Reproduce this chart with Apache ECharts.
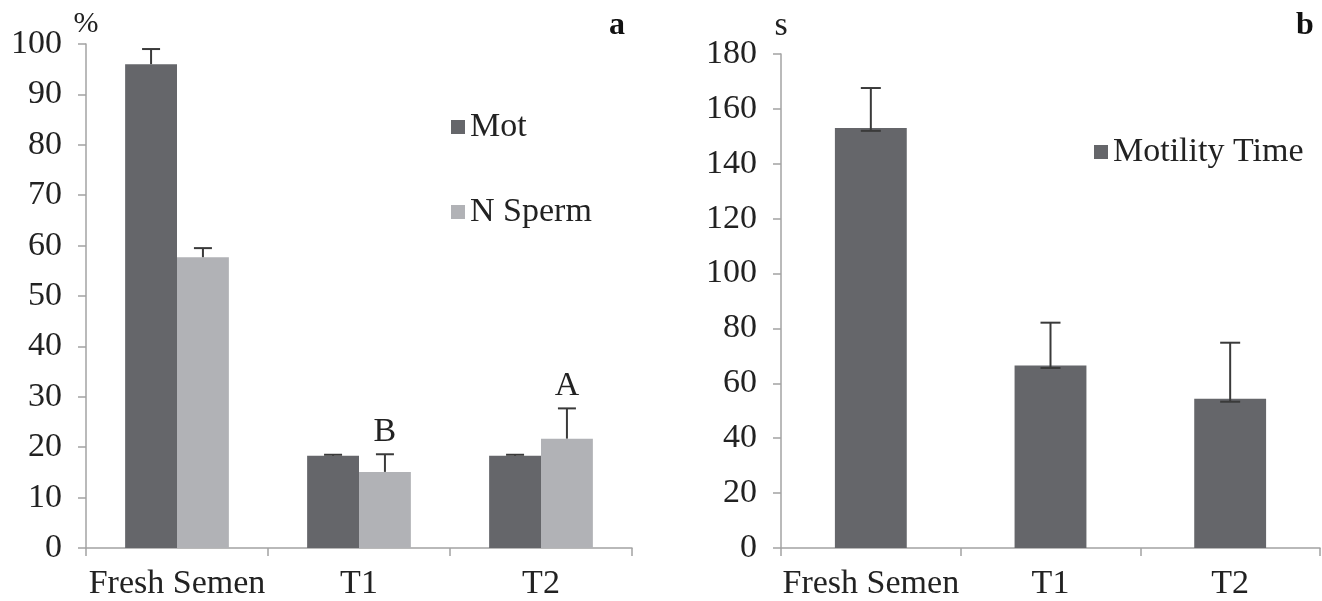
<!DOCTYPE html>
<html>
<head>
<meta charset="utf-8">
<script src="https://cdn.jsdelivr.net/npm/echarts@6/dist/echarts.min.js"></script>
<style>
  html, body { margin: 0; padding: 0; background: #fff; }
  #chart { width: 1322px; height: 601px; }
</style>
</head>
<body>
<div id="chart"></div>
<script>
// Panel a: motility (%) and normal sperm (%)
const categories = ['Fresh Semen', 'T1', 'T2'];
const motValues = [96, 18.3, 18.3];
const motErrHigh = [99, 18.5, 18.5];
const nSpermValues = [57.7, 15.1, 21.7];
const nSpermErrHigh = [59.5, 18.6, 27.7];
const nSpermLetters = ['', 'B', 'A'];

// Panel b: motility time (s)
const timeValues = [153, 66.5, 54.4];
const timeErrLow = [152, 65.6, 53.3];
const timeErrHigh = [167.6, 82.1, 74.8];

const FONT = "'Liberation Serif', 'Times New Roman', serif";
const FS = 34;
const TEXT = '#222';
const AXIS = '#a3a3a3';
const DARK = '#65666a';
const LIGHT = '#b1b2b6';
const WHISKER = '#3a3a3a';

const chart = echarts.init(document.getElementById('chart'));

// Error bar drawn at a bar's centre; shift is a fraction of the category band.
function errorBars(shiftFrac, capHalf, letters) {
  return function (params, api) {
    const idx = api.value(0);
    const band = api.size([1, 0])[0];
    const lo = api.coord([idx, api.value(1)]);
    const hi = api.coord([idx, api.value(2)]);
    const x = lo[0] + band * shiftFrac;
    const style = { stroke: WHISKER, lineWidth: 2 };
    const children = [
      { type: 'line', shape: { x1: x, y1: lo[1], x2: x, y2: hi[1] }, style },
      { type: 'line', shape: { x1: x - capHalf, y1: hi[1], x2: x + capHalf, y2: hi[1] }, style }
    ];
    if (api.value(3)) {
      children.push({ type: 'line', shape: { x1: x - capHalf, y1: lo[1], x2: x + capHalf, y2: lo[1] }, style });
    }
    const letter = letters ? letters[idx] : '';
    if (letter) {
      children.push({
        type: 'text',
        style: {
          x: x, y: hi[1] - 5, text: letter,
          fill: TEXT, font: FS + 'px ' + FONT,
          textAlign: 'center', textVerticalAlign: 'bottom'
        }
      });
    }
    return { type: 'group', children };
  };
}

const barFrac = (1 - 0.43) / 2;

const axisLabel = { color: TEXT, fontFamily: FONT, fontSize: FS };
const axisLineStyle = { show: true, lineStyle: { color: AXIS, width: 1.5 } };
const axisTickStyle = { show: true, length: 8, lineStyle: { color: AXIS, width: 1.5 } };

chart.setOption({
  animation: false,
  backgroundColor: '#fff',
  textStyle: { fontFamily: FONT },
  title: [
    { text: 'a', left: 604, top: 5, textStyle: { fontFamily: FONT, fontSize: 32, fontWeight: 'bold', color: '#111' } },
    { text: 'b', left: 1291, top: 5, textStyle: { fontFamily: FONT, fontSize: 32, fontWeight: 'bold', color: '#111' } }
  ],
  legend: [
    {
      data: ['Mot', 'N Sperm'],
      orient: 'vertical', left: 446, top: 105, itemGap: 51,
      icon: 'rect', itemWidth: 14, itemHeight: 14,
      textStyle: { color: TEXT, fontFamily: FONT, fontSize: FS }
    },
    {
      data: ['Motility Time'],
      left: 1089, top: 130,
      icon: 'rect', itemWidth: 14, itemHeight: 14,
      textStyle: { color: TEXT, fontFamily: FONT, fontSize: FS }
    }
  ],
  grid: [
    { left: 86, right: 690, top: 44, bottom: 52 },
    { left: 781, right: 2, top: 54, bottom: 52 }
  ],
  xAxis: [
    {
      gridIndex: 0, type: 'category', data: categories,
      axisLine: axisLineStyle, axisTick: axisTickStyle,
      axisLabel: Object.assign({ margin: 19, interval: 0 }, axisLabel)
    },
    {
      gridIndex: 1, type: 'category', data: categories,
      axisLine: axisLineStyle, axisTick: axisTickStyle,
      axisLabel: Object.assign({ margin: 19, interval: 0 }, axisLabel)
    }
  ],
  yAxis: [
    {
      gridIndex: 0, type: 'value', min: 0, max: 100, interval: 10,
      name: '%', nameLocation: 'end', nameGap: 5,
      nameTextStyle: { color: TEXT, fontFamily: FONT, fontSize: 30, align: 'center' },
      axisLine: axisLineStyle, axisTick: axisTickStyle, splitLine: { show: false },
      axisLabel: Object.assign({ margin: 24 }, axisLabel)
    },
    {
      gridIndex: 1, type: 'value', min: 0, max: 180, interval: 20,
      name: 's', nameLocation: 'end', nameGap: 11,
      nameTextStyle: { color: TEXT, fontFamily: FONT, fontSize: FS, align: 'center' },
      axisLine: axisLineStyle, axisTick: axisTickStyle, splitLine: { show: false },
      axisLabel: Object.assign({ margin: 24 }, axisLabel)
    }
  ],
  series: [
    {
      name: 'Mot', type: 'bar', xAxisIndex: 0, yAxisIndex: 0,
      data: motValues, barGap: '0%', barCategoryGap: '43%',
      itemStyle: { color: DARK }
    },
    {
      name: 'N Sperm', type: 'bar', xAxisIndex: 0, yAxisIndex: 0,
      data: nSpermValues, barGap: '0%', barCategoryGap: '43%',
      itemStyle: { color: LIGHT }
    },
    {
      name: 'Mot err', type: 'custom', xAxisIndex: 0, yAxisIndex: 0, z: 5,
      renderItem: errorBars(-barFrac / 2, 9, null),
      encode: { x: 0, y: [1, 2] },
      data: motValues.map((v, i) => [i, v, motErrHigh[i], 0])
    },
    {
      name: 'N Sperm err', type: 'custom', xAxisIndex: 0, yAxisIndex: 0, z: 5,
      renderItem: errorBars(barFrac / 2, 9, nSpermLetters),
      encode: { x: 0, y: [1, 2] },
      data: nSpermValues.map((v, i) => [i, v, nSpermErrHigh[i], 0])
    },
    {
      name: 'Motility Time', type: 'bar', xAxisIndex: 1, yAxisIndex: 1,
      data: timeValues, barCategoryGap: '60%',
      itemStyle: { color: DARK }
    },
    {
      name: 'Motility Time err', type: 'custom', xAxisIndex: 1, yAxisIndex: 1, z: 5,
      renderItem: errorBars(0, 10, null),
      encode: { x: 0, y: [1, 2] },
      data: timeValues.map((v, i) => [i, timeErrLow[i], timeErrHigh[i], 1])
    }
  ]
});
</script>
</body>
</html>
